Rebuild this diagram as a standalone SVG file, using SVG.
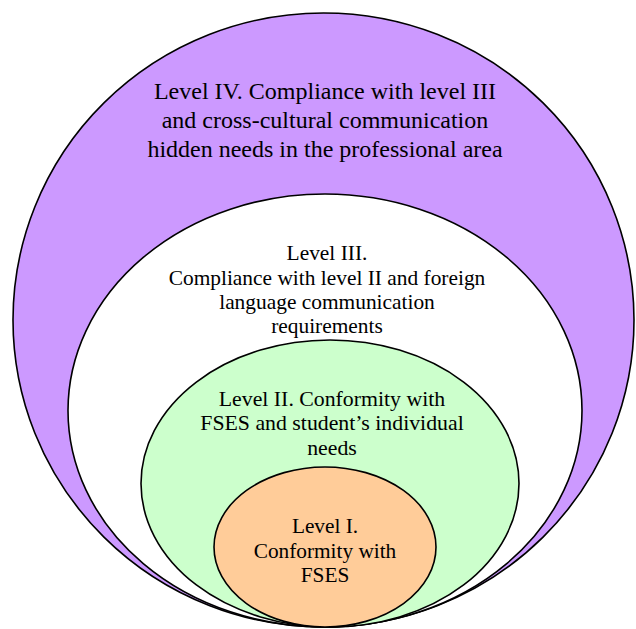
<svg xmlns="http://www.w3.org/2000/svg" width="636" height="629" viewBox="0 0 636 629">
<style>
.e{stroke:#000;stroke-width:1.6}
.t{font-family:"Liberation Serif","Times New Roman",serif;fill:#000;text-anchor:middle}
</style>
<rect width="636" height="629" fill="#fff"/>
<g id="level4">
<ellipse class="e" cx="323.5" cy="320" rx="310.5" ry="307" fill="#CC99FF"/>
<text class="t" font-size="24"><tspan x="325" y="99">Level IV. Compliance with level III</tspan><tspan x="325" y="128">and cross-cultural communication</tspan><tspan x="325" y="157">hidden needs in the professional area</tspan></text>
</g>
<g id="level3">
<ellipse class="e" cx="325" cy="410.5" rx="257" ry="216.5" fill="#fff"/>
<text class="t" font-size="21.4"><tspan x="327" y="260">Level III.</tspan><tspan x="327" y="285">Compliance with level II and foreign</tspan><tspan x="327" y="309">language communication</tspan><tspan x="327" y="333">requirements</tspan></text>
</g>
<g id="level2">
<ellipse class="e" cx="330" cy="483.5" rx="189" ry="143.5" fill="#CCFFCC"/>
<text class="t" font-size="21.8"><tspan x="332" y="406">Level II. Conformity with</tspan><tspan x="332" y="430">FSES and student’s individual</tspan><tspan x="332" y="455">needs</tspan></text>
</g>
<g id="level1">
<ellipse class="e" cx="325" cy="547" rx="111" ry="80" fill="#FFCC99"/>
<text class="t" font-size="21.3"><tspan x="325" y="533">Level I.</tspan><tspan x="325" y="558">Conformity with</tspan><tspan x="325" y="582">FSES</tspan></text>
</g>
<g id="connectors"/>
</svg>
